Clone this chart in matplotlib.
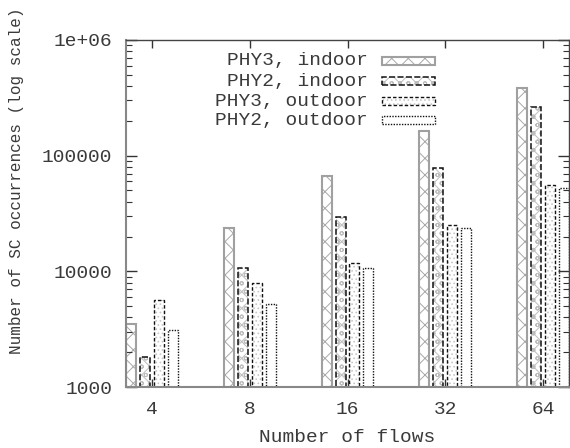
import numpy as np
import matplotlib
matplotlib.use('Agg')
import matplotlib.pyplot as plt
from matplotlib.patches import Rectangle
from matplotlib.ticker import LogLocator, NullFormatter

# Data
flows = ['4', '8', '16', '32', '64']
series = ['PHY3, indoor', 'PHY2, indoor', 'PHY3, outdoor', 'PHY2, outdoor']
phy3_indoor = [3500, 23700, 66700, 164000, 387000]
phy2_indoor = [1800, 10700, 29500, 77800, 262000]
phy3_outdoor = [5650, 7900, 11800, 25200, 55800]
phy2_outdoor = [3100, 5200, 10700, 23500, 52500]
values = [phy3_indoor, phy2_indoor, phy3_outdoor, phy2_outdoor]

# Styles: (hatch, hatch colour, edge colour, edge linestyle, edge width)
styles = [
    ('xx', '#a8a8a8', '#a0a0a0', '-', 1.5),
    ('xxoo', '#bdbdbd', '#111111', (0, (4, 1.5)), 1.1),
    ('....', '#c8c8c8', '#111111', (0, (2.5, 1.5)), 1.0),
    (None, '#ffffff', '#111111', (0, (1, 1)), 1.0),
]

plt.rcParams['font.family'] = ['Liberation Mono', 'DejaVu Sans Mono']
plt.rcParams['hatch.linewidth'] = 0.7
text_color = '#3a3a3a'

fig = plt.figure(figsize=(5.7, 4.48), dpi=100)
ax = fig.add_axes([126 / 570, 1 - 387 / 448, 443 / 570, 347 / 448])

x = np.arange(len(flows))
slot = 1 / 7
width = 0.102


def draw_bar(target, xy, w, h, style, transform=None):
    hatch, hcol, ecol, ls, lw = style
    kw = {}
    if transform is not None:
        kw['transform'] = transform
    back = Rectangle(xy, w, h, facecolor='white', edgecolor=hcol,
                     hatch=hatch, linewidth=0, **kw)
    edge = Rectangle(xy, w, h, fill=False, edgecolor=ecol,
                     linestyle=ls, linewidth=lw, **kw)
    target.add_patch(back)
    target.add_patch(edge)


bottom = 1000
for i, vals in enumerate(values):
    offs = (i - 1.5) * slot
    for xi, v in zip(x, vals):
        draw_bar(ax, (xi + offs - width / 2, bottom), width, v - bottom, styles[i])

ax.set_yscale('log')
ax.set_ylim(1000, 1e6)
ax.set_xlim(-0.265, 4.265)

ax.set_yticks([1000, 10000, 100000, 1e6])
ax.set_yticklabels(['1000', '10000', '100000', '1e+06'])
ax.yaxis.set_minor_locator(LogLocator(base=10, subs=np.arange(2, 10)))
ax.yaxis.set_minor_formatter(NullFormatter())
ax.set_xticks(x)
ax.set_xticklabels(flows)

ax.tick_params(axis='both', which='both', direction='in', top=True, right=True,
               labelsize=14, labelcolor=text_color, color='#333333', pad=10)
ax.tick_params(axis='y', which='major', length=8, width=1)
ax.tick_params(axis='y', which='minor', length=4, width=0.8)
ax.tick_params(axis='x', which='major', length=6, width=1)
ax.tick_params(axis='x', which='minor', length=0)

for side in ['left', 'bottom']:
    ax.spines[side].set_color('#888888')
    ax.spines[side].set_linewidth(1.5)
for side in ['top', 'right']:
    ax.spines[side].set_color('#444444')
    ax.spines[side].set_linewidth(1.0)

fig.text(347 / 570, 1 - 437 / 448, 'Number of flows', ha='center', va='center',
         fontsize=14, color=text_color)
fig.text(17 / 570, 1 - 181 / 448, 'Number of SC occurrences (log scale)',
         rotation=90, ha='center', va='center', fontsize=11.5, color=text_color)

# Legend drawn gnuplot-style: right-justified text, sample box on the right
rows_px = [61, 81.5, 101.5, 120.5]
for label, style, py in zip(series, styles, rows_px):
    ya = (387 - py) / 347
    ax.text((368 - 126) / 443, ya, label, transform=ax.transAxes,
            ha='right', va='center', fontsize=14, color=text_color)
    draw_bar(ax, ((382 - 126) / 443, ya - 4 / 347), 53 / 443, 8 / 347, style,
             transform=ax.transAxes)

fig.savefig('out.png', dpi=100)
